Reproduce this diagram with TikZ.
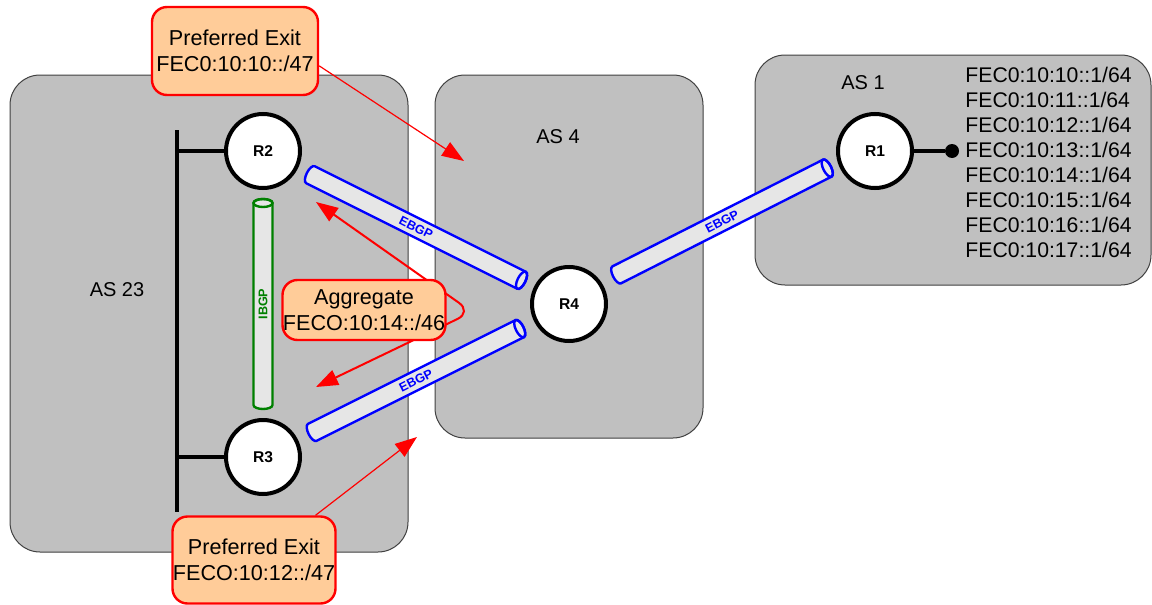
\documentclass[tikz,border=0pt]{standalone}
\usepackage{fontspec}
\setmainfont{Liberation Sans}
\usetikzlibrary{arrows.meta,calc}

\definecolor{asgray}{HTML}{C0C0C0}
\definecolor{tubegray}{HTML}{E6E6E6}
\definecolor{peach}{HTML}{FFCC99}
\definecolor{ibgpgreen}{HTML}{008000}

\tikzset{
    asbox/.style={draw=black!75, line width=0.5pt, fill=asgray, rounded corners=15pt},
    aslabel/.style={font=\fontsize{10}{12}\selectfont},
    router/.style={circle, draw, line width=2pt, fill=white, minimum size=37pt, inner sep=0pt, font=\fontsize{7.8}{9}\selectfont\bfseries},
    bus/.style={line width=2pt},
    tapdot/.style={circle, fill, minimum size=7pt, inner sep=0pt},
    callout/.style={draw=red, line width=1.2pt, fill=peach, rounded corners=7.5pt, align=center, inner sep=0pt, font=\fontsize{10.8}{13}\selectfont},
    pointer/.style={red, line width=0.6pt, -{Triangle[length=11pt,width=8pt]}},
    aggline/.style={red, line width=1pt, rounded corners=8pt, {Triangle[length=11pt,width=8pt]}-{Triangle[length=11pt,width=8pt]}},
    % session tube: half length / colour / label
    pics/tube/.style args={#1/#2/#3}{code={
        \draw[line width=1.2pt, draw=#2, fill=tubegray]
            (-#1,-4.75pt) -- (#1,-4.75pt)
            arc[start angle=-90, end angle=90, x radius=2pt, y radius=4.75pt]
            -- (-#1,4.75pt)
            arc[start angle=90, end angle=270, x radius=2pt, y radius=4.75pt] -- cycle;
        \draw[line width=1.2pt, draw=#2] (#1,0pt) ellipse[x radius=2pt, y radius=4.75pt];
        \node[transform shape, inner sep=0pt, text=#2, font=\fontsize{6.3}{7}\selectfont\bfseries] (-lbl) at (0pt,0pt) {#3};
    }},
}

\begin{document}
\begin{tikzpicture}[x=0.5pt, y=-0.5pt]

    \useasboundingbox (0,0) rectangle (1152,605);

    % autonomous systems
    \draw[asbox] (10,75) rectangle (408,552); % AS 23
    \draw[asbox] (435,75) rectangle (703,438); % AS 4
    \draw[asbox] (755,55) rectangle (1151,285); % AS 1

    \node[aslabel] (as23lbl) at (117,290) {AS 23};
    \node[aslabel] (as4lbl) at (558,137) {AS 4};
    \node[aslabel] (as1lbl) at (863,83) {AS 1};

    % routers
    \node[router] (R2) at (263,151) {R2};
    \node[router] (R3) at (263,457) {R3};
    \node[router] (R4) at (569,304) {R4};
    \node[router] (R1) at (875,151) {R1};

    % LAN of AS 23
    \coordinate (bustop) at (177,130);
    \coordinate (busbot) at (177,512);
    \draw[bus] (bustop) -- (busbot);
    \draw[bus] (R2.west) -- (R2.west -| bustop);
    \draw[bus] (R3.west) -- (R3.west -| bustop);

    % AS 1 prefixes
    \node[tapdot] (tap) at (952,151) {};
    \draw[bus] (R1) -- (tap);
    \node[anchor=west, align=left, inner sep=0pt, font=\fontsize{10.6}{12.5}\selectfont] (fecs) at (965,162.5)
        {FEC0:10:10::1/64\\FEC0:10:11::1/64\\FEC0:10:12::1/64\\FEC0:10:13::1/64\\FEC0:10:14::1/64\\FEC0:10:15::1/64\\FEC0:10:16::1/64\\FEC0:10:17::1/64};

    % sessions
    \pic[rotate=-26.57] (t24) at ($(R2)!0.5!(R4)$) {tube=59pt/blue/EBGP};
    \pic[rotate=26.57] (t34) at ($(R3)!0.5!(R4)$) {tube=58pt/blue/EBGP};
    \pic[rotate=26.87] (t41) at ($(R4)!0.5!(R1)+(0,-6)$) {tube=59pt/blue/EBGP};
    \pic[rotate=90] (t32) at ($(R3)!0.5!(R2)$) {tube=50.5pt/ibgpgreen/IBGP};

    % callouts
    \coordinate (tip1) at (464,161);
    \coordinate (tip3) at (417,437);
    \coordinate (aggR2) at (316,202);
    \coordinate (aggR3) at (316,387);
    \coordinate (aggtip) at (472,312);

    \node[callout, minimum width=83pt, minimum height=44pt] (exit1) at (235,51) {Preferred Exit\\FEC0:10:10::/47};
    \draw[pointer] (exit1.-10) -- (tip1);

    \draw[aggline] (aggR2) -- (aggtip) -- (aggR3);
    \node[callout, minimum width=81.5pt, minimum height=30pt] (agg) at (364,310) {Aggregate\\FECO:10:14::/46};

    \node[callout, minimum width=81.5pt, minimum height=43.5pt] (exit3) at (254,560) {Preferred Exit\\FECO:10:12::/47};
    \draw[pointer] (exit3.36) -- (tip3);

\end{tikzpicture}
\end{document}
